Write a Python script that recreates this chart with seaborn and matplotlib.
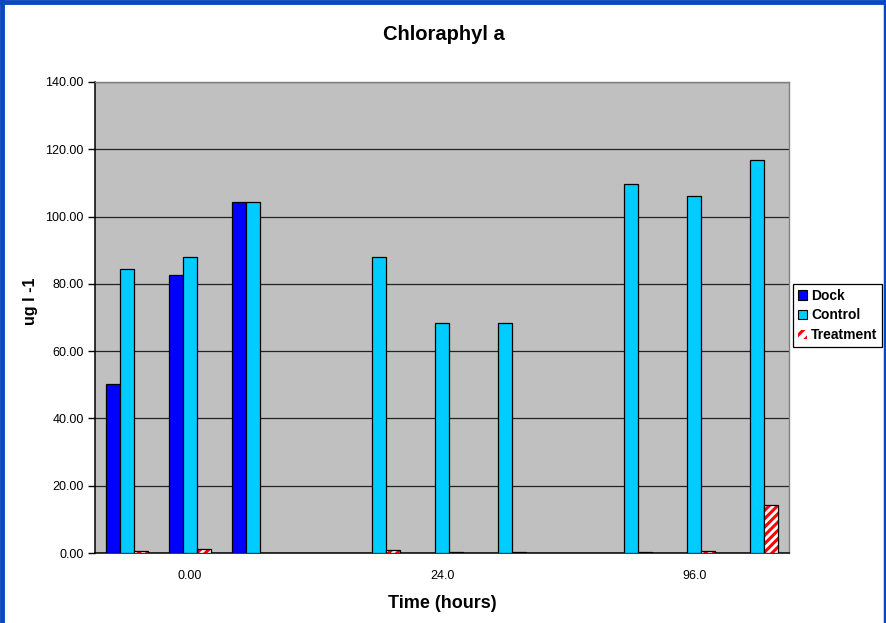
import numpy as np
import pandas as pd
import matplotlib
matplotlib.use("Agg")
import matplotlib.pyplot as plt
from matplotlib.patches import Patch, Rectangle
from matplotlib.lines import Line2D
import seaborn as sns

# Sample slots along the time axis (three samples per time, blank slot between times)
slots = list(range(11))
slot_labels = ["", "0.00", "", "", "", "24.0", "", "", "", "96.0", ""]

dock = [50.2, 82.5, 104.3, np.nan, np.nan, np.nan, np.nan, np.nan, np.nan, np.nan, np.nan]
control = [84.3, 88.1, 104.3, np.nan, 88.1, 68.4, 68.4, np.nan, 109.6, 106.2, 116.7]
treatment = [0.5, 1.1, np.nan, np.nan, 0.9, 0.4, 0.3, np.nan, 0.4, 0.7, 14.2]

series = ["Dock", "Control", "Treatment"]
colors = {"Dock": "#0000FF", "Control": "#00CCFF", "Treatment": "#FFFFFF"}

df = pd.DataFrame({
    "slot": slots * 3,
    "series": [s for s in series for _ in slots],
    "value": dock + control + treatment,
})

sns.set_theme(style="white")
plt.rcParams["font.family"] = ["Liberation Sans", "DejaVu Sans"]
plt.rcParams["hatch.linewidth"] = 2.2
for key in ["text.color", "axes.labelcolor", "xtick.color", "ytick.color"]:
    plt.rcParams[key] = "black"

fig = plt.figure(figsize=(8.86, 6.23), dpi=100)
fig.patch.set_facecolor("white")
ax = fig.add_axes([95 / 886, 1 - 553 / 623, 694 / 886, 471 / 623])
ax.set_facecolor("#C0C0C0")

sns.barplot(data=df, x="slot", y="value", hue="series", order=slots,
            hue_order=series, palette=colors, width=2 / 3, gap=0,
            edgecolor="black", linewidth=0.9, saturation=1, ax=ax,
            legend=False, zorder=3)

# Red/white striped fill for the Treatment bars, with a black outline on top
treat_container = ax.containers[2]
for p in treat_container:
    if np.isnan(p.get_height()):
        continue
    p.set_facecolor("white")
    p.set_edgecolor("#FF0000")
    p.set_hatch("////")
    p.set_linewidth(0)
    ax.add_patch(Rectangle(p.get_xy(), p.get_width(), p.get_height(),
                           facecolor="none", edgecolor="black",
                           linewidth=0.9, zorder=4))

ax.set_ylim(0, 140)
ax.set_xlim(-0.5, len(slots) - 0.5)
yt = np.arange(0, 141, 20)
ax.set_yticks(yt)
ax.set_yticklabels([f"{v:.2f}" for v in yt], fontsize=9)
ax.set_xticks(slots)
ax.set_xticklabels(slot_labels, fontsize=9)
ax.set_xticks(np.arange(-0.5, len(slots), 1), minor=True)
ax.tick_params(axis="x", which="major", length=0, pad=12)
ax.tick_params(axis="x", which="minor", length=5, width=1, color="black", direction="out")
ax.tick_params(axis="y", length=5, width=1, color="black", direction="out", left=True, pad=3)

ax.yaxis.grid(True, color="#222222", linewidth=0.9, zorder=1)
ax.set_axisbelow(True)

for side in ["left", "bottom"]:
    ax.spines[side].set_color("black")
    ax.spines[side].set_linewidth(1.1)
for side in ["top", "right"]:
    ax.spines[side].set_color("#808080")
    ax.spines[side].set_linewidth(1.0)

ax.set_xlabel("")
ax.set_ylabel("")
fig.text(442 / 886, 1 - 603 / 623, "Time (hours)", ha="center", va="center",
         fontsize=13, fontweight="bold")
fig.text(30 / 886, 1 - 301 / 623, "ug l -1", ha="center", va="center",
         rotation=90, fontsize=11.5, fontweight="bold")
fig.text(444 / 886, 1 - 35 / 623, "Chloraphyl a", ha="center", va="center",
         fontsize=14.5, fontweight="bold")

handles = [
    Patch(facecolor=colors["Dock"], edgecolor="black", linewidth=0.8, label="Dock"),
    Patch(facecolor=colors["Control"], edgecolor="black", linewidth=0.8, label="Control"),
    Patch(facecolor="white", edgecolor="#FF0000", hatch="///", linewidth=0, label="Treatment"),
]
leg = fig.legend(handles=handles, loc="center left",
                 bbox_to_anchor=(793 / 886, 1 - 315.5 / 623),
                 frameon=True, fancybox=False, framealpha=1,
                 edgecolor="black", handlelength=0.65, handleheight=0.65,
                 handletextpad=0.3, labelspacing=0.4, borderpad=0.35,
                 borderaxespad=0, prop={"weight": "bold", "size": 10})
leg.get_frame().set_linewidth(0.9)

# Blue frame around the chart
frame_color = "#0A48C0"
fig.add_artist(Line2D([2 / 886, 2 / 886], [0, 1], transform=fig.transFigure,
                      color=frame_color, linewidth=3.5))
fig.add_artist(Line2D([0, 1], [1 - 2 / 623, 1 - 2 / 623], transform=fig.transFigure,
                      color=frame_color, linewidth=3.5))
fig.add_artist(Line2D([1 - 1.5 / 886, 1 - 1.5 / 886], [0, 1], transform=fig.transFigure,
                      color=frame_color, linewidth=2.5))

fig.savefig("out.png", dpi=100)
